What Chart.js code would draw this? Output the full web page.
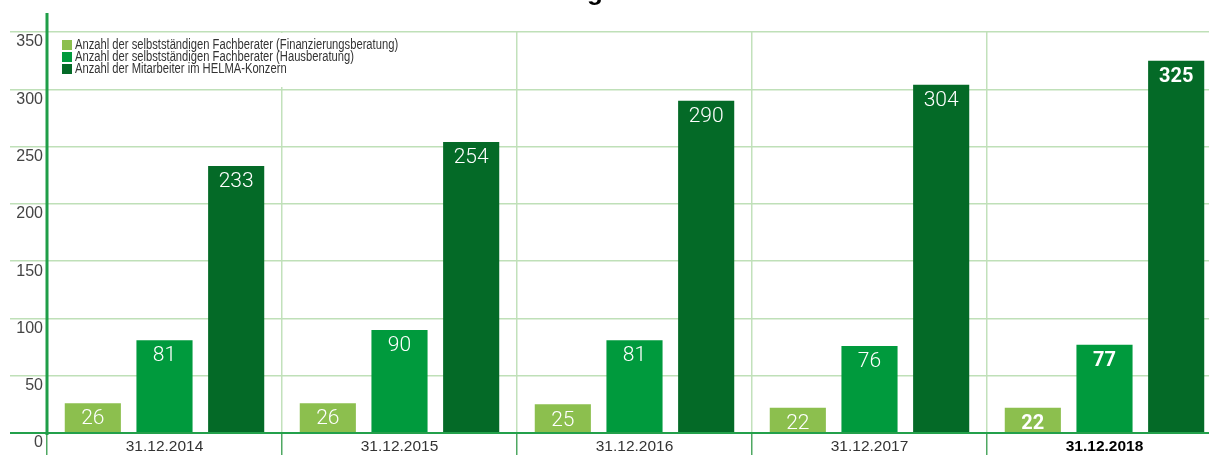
<!DOCTYPE html>
<html>
<head>
<meta charset="utf-8">
<script src="https://cdn.jsdelivr.net/npm/chart.js@4.4.1/dist/chart.umd.min.js"></script>
<style>
  html, body { margin: 0; padding: 0; background: #fff; overflow: hidden; }
  #wrap { width: 1222px; height: 455px; }
</style>
</head>
<body>
<div id="wrap"><canvas id="c" width="1222" height="455"></canvas></div>
<script>
const categories = ['31.12.2014', '31.12.2015', '31.12.2016', '31.12.2017', '31.12.2018'];
const seriesNames = [
  'Anzahl der selbstständigen Fachberater (Finanzierungsberatung)',
  'Anzahl der selbstständigen Fachberater (Hausberatung)',
  'Anzahl der Mitarbeiter im HELMA-Konzern'
];
const finanzierung = [26, 26, 25, 22, 22];
const hausberatung = [81, 90, 81, 76, 77];
const mitarbeiter = [233, 254, 290, 304, 325];
const yTicks = [0, 50, 100, 150, 200, 250, 300, 350];
const titleText = 'Mitarbeiterentwicklung';

const colors = ['#8cbf4e', '#009a3d', '#046a27'];
const sans = "'Liberation Sans', Arial, sans-serif";
const lastIdx = categories.length - 1;

const valueLabels = {
  id: 'valueLabels',
  afterDatasetsDraw(chart) {
    const ctx = chart.ctx;
    ctx.save();
    ctx.textAlign = 'center';
    ctx.textBaseline = 'middle';
    ctx.fillStyle = '#ffffff';
    chart.data.datasets.forEach((ds, di) => {
      const meta = chart.getDatasetMeta(di);
      meta.data.forEach((bar, i) => {
        ctx.font = (i === lastIdx ? 'bold 20px ' : '300 21px ') + "Roboto, 'Liberation Sans', sans-serif";
        ctx.fillText(String(ds.data[i]), bar.x, bar.y + 16);
      });
    });
    ctx.restore();
  }
};

const customLegend = {
  id: 'customLegend',
  beforeDatasetsDraw(chart) {
    const ctx = chart.ctx;
    const a = chart.chartArea;
    const squeeze = 0.8;
    ctx.save();
    ctx.font = '14px ' + sans;
    let maxW = 0;
    chart.data.datasets.forEach(ds => { maxW = Math.max(maxW, ctx.measureText(ds.label).width * squeeze); });
    const boxX = a.left + 15;
    const textX = boxX + 13;
    ctx.fillStyle = '#ffffff';
    ctx.fillRect(a.left + 3, a.top + 1, textX + maxW + 8 - (a.left + 3), 54);
    ctx.textBaseline = 'middle';
    ctx.textAlign = 'left';
    chart.data.datasets.forEach((ds, i) => {
      const cy = a.top + 13 + i * 12;
      ctx.fillStyle = ds.backgroundColor;
      ctx.fillRect(boxX, cy - 5, 10, 10);
      ctx.fillStyle = '#333333';
      ctx.save();
      ctx.translate(textX, cy + 0.5);
      ctx.scale(squeeze, 1);
      ctx.fillText(ds.label, 0, 0);
      ctx.restore();
    });
    ctx.restore();
  }
};

const axisExtras = {
  id: 'axisExtras',
  afterDraw(chart) {
    const ctx = chart.ctx;
    const a = chart.chartArea;
    const ys = chart.scales.y;
    ctx.save();
    ctx.strokeStyle = '#1f9e48';
    ctx.lineWidth = 3;
    ctx.beginPath();
    ctx.moveTo(ys.right, a.top - 19);
    ctx.lineTo(ys.right, a.bottom + 2);
    ctx.stroke();
    // partially visible title above the frame
    ctx.fillStyle = '#000000';
    ctx.font = "bold 26px " + sans;
    ctx.textAlign = 'right';
    ctx.textBaseline = 'alphabetic';
    ctx.fillText(titleText, 603, 0);
    ctx.restore();
  }
};

new Chart(document.getElementById('c'), {
  type: 'bar',
  data: {
    labels: categories,
    datasets: [
      { label: seriesNames[0], data: finanzierung, backgroundColor: colors[0] },
      { label: seriesNames[1], data: hausberatung, backgroundColor: colors[1] },
      { label: seriesNames[2], data: mitarbeiter, backgroundColor: colors[2] }
    ]
  },
  options: {
    responsive: false,
    animation: false,
    devicePixelRatio: 1,
    layout: { padding: { top: 32, right: 0, left: 0, bottom: 0 } },
    datasets: { bar: { categoryPercentage: 0.915, barPercentage: 0.783 } },
    plugins: { legend: { display: false }, tooltip: { enabled: false }, title: { display: false } },
    scales: {
      x: {
        grid: {
          offset: true,
          color: '#c2e1bb',
          lineWidth: 1.5,
          drawTicks: true,
          tickLength: 22,
          tickColor: '#4fa862',
          tickWidth: 1.5
        },
        border: { display: true, color: '#23a04b', width: 2 },
        ticks: {
          padding: -18,
          color: (c) => c.index === lastIdx ? '#000000' : '#333333',
          font: (c) => c.index === lastIdx
            ? { family: sans, size: 15.5, weight: 'bold' }
            : { family: sans, size: 15.5, weight: 'normal' }
        },
        afterFit(scale) { scale.height = 22; }
      },
      y: {
        min: yTicks[0],
        max: yTicks[yTicks.length - 1],
        afterBuildTicks(scale) { scale.ticks = yTicks.map(v => ({ value: v })); },
        grid: {
          color: (c) => c.tick && c.tick.value === 0 ? '#23a04b' : '#bfe0b8',
          lineWidth: (c) => c.tick && c.tick.value === 0 ? 2 : 1.5,
          drawTicks: true,
          tickLength: 37,
          tickColor: (c) => c.tick && c.tick.value === 0 ? '#23a04b' : '#bfe0b8',
          tickWidth: (c) => c.tick && c.tick.value === 0 ? 2 : 1.5
        },
        border: { display: false },
        ticks: {
          padding: -33,
          labelOffset: 10,
          color: '#444444',
          font: { family: sans, size: 16 }
        },
        afterFit(scale) { scale.width = 47; }
      }
    }
  },
  plugins: [customLegend, valueLabels, axisExtras]
});
</script>
</body>
</html>
